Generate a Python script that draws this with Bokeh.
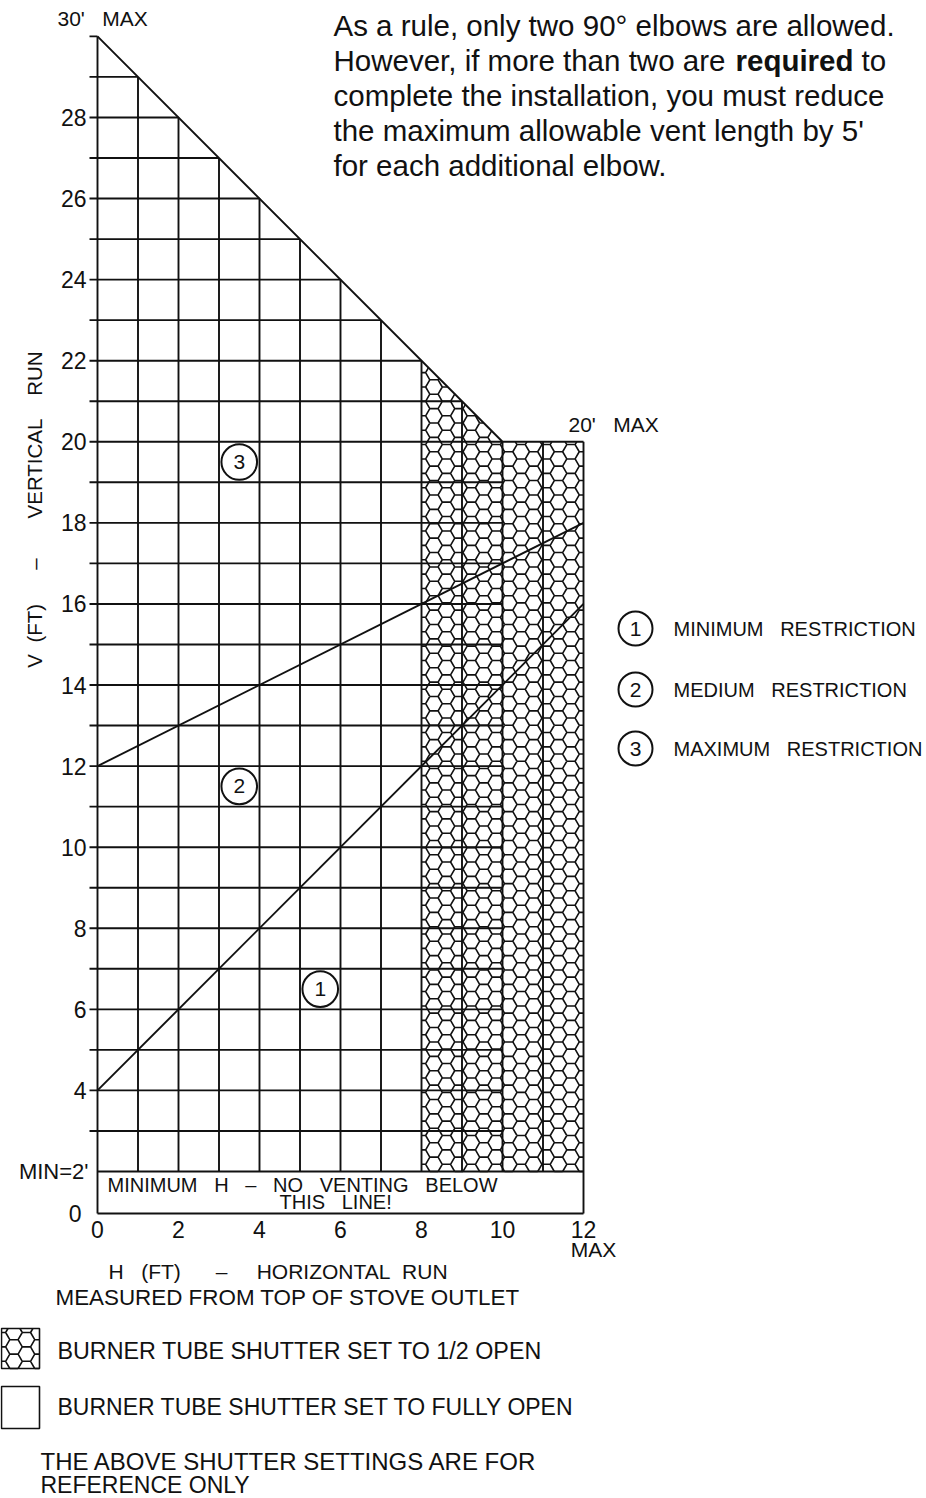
import numpy as np
from bokeh.plotting import figure
from bokeh.models import Range1d
from bokeh.embed import file_html
from bokeh.resources import INLINE
from bokeh.core.properties import value

# ---------------- data ----------------
h_ticks = [0, 2, 4, 6, 8, 10, 12]
h_tick_labels = ["0", "2", "4", "6", "8", "10", "12"]
v_ticks = [4, 6, 8, 10, 12, 14, 16, 18, 20, 22, 24, 26, 28]
v_tick_labels = ["4", "6", "8", "10", "12", "14", "16", "18", "20", "22", "24", "26", "28"]

h_max = 12            # maximum horizontal run
v_max = 30            # maximum vertical run
v_max_at_h_max = 20   # maximum vertical run at the end
v_min = 2             # minimum vertical run
h_half_open = 8       # from here on: shutter 1/2 open
h_knee = 10           # where the limit line reaches 20'

# limit line and restriction lines (H, V)
limit_h = [0, 10, 12]
limit_v = [30, 20, 20]
min_restr_h = [0, 12]
min_restr_v = [4, 16]
med_restr_h = [0, 12]
med_restr_v = [12, 18]

zone_numbers = ["1", "2", "3"]
zone_h = [5.5, 3.5, 3.5]
zone_v = [6.5, 11.5, 19.5]
zone_names = ["MINIMUM\u00a0\u00a0\u00a0RESTRICTION",
              "MEDIUM\u00a0\u00a0\u00a0RESTRICTION",
              "MAXIMUM\u00a0\u00a0\u00a0RESTRICTION"]

note_lines = ["As a rule, only two 90\u00b0 elbows are allowed.",
              "However, if more than two are",
              "complete the installation, you must reduce",
              "the maximum allowable vent length by 5'",
              "for each additional elbow."]

# ---------------- layout ----------------
W, H = 926, 1498
PPX = 40.5     # px per ft (horizontal)
PPY = 40.54    # px per ft (vertical)


def X(px):
    return (px - 97) / PPX


def Y(py):
    return 2 + (1171 - py) / PPY


x_start = X(0)
x_end = x_start + W / PPX
y_end = Y(0)
y_start = y_end - H / PPY
V_ZERO = Y(1213)      # the compressed 0..2 band bottom
TICK = 8 / PPX

SANS = "Liberation Sans"
NB = "\u00a0"
INK = "#111111"

p = figure(width=W, height=H, x_range=Range1d(x_start, x_end),
           y_range=Range1d(y_start, y_end), output_backend="svg",
           toolbar_location=None, x_axis_location=None, y_axis_location=None,
           min_border=0, outline_line_color=None,
           background_fill_color="white", border_fill_color="white")
p.grid.visible = False


def lines_from(segs):
    xs, ys = [], []
    for (a, b, c, d) in segs:
        xs += [a, c, np.nan]
        ys += [b, d, np.nan]
    return xs, ys


def clip(p0, p1, planes):
    t0, t1 = 0.0, 1.0
    dx, dy = p1[0] - p0[0], p1[1] - p0[1]
    for a, b, c in planes:
        num = c - (a * p0[0] + b * p0[1])
        den = a * dx + b * dy
        if abs(den) < 1e-12:
            if num < 0:
                return None
            continue
        t = num / den
        if den > 0:
            t1 = min(t1, t)
        else:
            t0 = max(t0, t)
        if t0 >= t1:
            return None
    return (p0[0] + t0 * dx, p0[1] + t0 * dy, p0[0] + t1 * dx, p0[1] + t1 * dy)


def honeycomb(xmin, xmax, ymin, ymax, s, regions):
    segs = []
    r3 = np.sqrt(3)
    ang = np.radians([0, 60, 120, 180])
    ncol = int((xmax - xmin) / (1.5 * s)) + 3
    nrow = int((ymax - ymin) / (r3 * s)) + 3
    for i in range(-1, ncol):
        cx = xmin + 1.5 * s * i
        for j in range(-1, nrow):
            cy = ymin + r3 * s * (j + 0.5 * (i % 2))
            vx = cx + s * np.cos(ang)
            vy = cy + s * np.sin(ang)
            for k in range(3):
                for planes in regions:
                    c = clip((vx[k], vy[k]), (vx[k + 1], vy[k + 1]), planes)
                    if c is not None:
                        segs.append(c)
    return segs


HEX_S = 0.205
# region of 1/2-open shutter: two convex parts
reg_a = [(-1, 0, -h_half_open), (1, 0, h_knee), (0, -1, -v_min), (1, 1, v_max)]
reg_b = [(-1, 0, -h_knee), (1, 0, h_max), (0, -1, -v_min), (0, 1, v_max_at_h_max)]
hex_segs = honeycomb(h_half_open, h_max, v_min, v_max - h_half_open, HEX_S, [reg_a, reg_b])

# legend box with honeycomb
bx0, bx1 = X(1), X(39)
by0, by1 = Y(1368), Y(1328)
reg_c = [(-1, 0, -bx0), (1, 0, bx1), (0, -1, -by0), (0, 1, by1)]
hex_segs += honeycomb(bx0, bx1, by0, by1, HEX_S, [reg_c])

hx, hy = lines_from(hex_segs)
p.line(hx, hy, line_color=INK, line_width=1.6)


def top_at(h):
    return max(v_max - h, v_max_at_h_max)


# grid
grid = []
for j in range(0, h_max + 1):
    low = V_ZERO if j in (0, h_max) else v_min
    grid.append((j, low, j, top_at(j)))
for k in range(v_min + 1, v_max):
    grid.append((-TICK, k, min(h_knee, v_max - k), k))
grid.append((-TICK, v_max, 0, v_max))
grid.append((0, v_min, h_max, v_min))
grid.append((0, V_ZERO, h_max, V_ZERO))
gx, gy = lines_from(grid)
p.line(gx, gy, line_color=INK, line_width=1.9)

# limit & restriction lines
p.line(limit_h, limit_v, line_color=INK, line_width=1.9)
p.line(min_restr_h, min_restr_v, line_color=INK, line_width=1.9)
p.line(med_restr_h, med_restr_v, line_color=INK, line_width=1.9)

# zone markers
p.circle(zone_h, zone_v, radius=0.44, fill_color="white", line_color=INK, line_width=2.0)
p.text(zone_h, zone_v, text=zone_numbers, text_font=value(SANS), text_font_size="21px",
       text_align="center", text_baseline="middle", text_color=INK)


def txt(x, y, s, size, font=SANS, align="left", baseline="middle", angle=0.0, style="normal"):
    p.text(x=[x], y=[y], text=[s], text_font=value(font), text_font_size=f"{size}px",
           text_align=align, text_baseline=baseline, angle=angle,
           text_font_style=style, text_color=INK)


# tick labels
p.text(x=[X(86)] * len(v_ticks), y=v_ticks, text=v_tick_labels, text_font=value(SANS),
       text_font_size="23px", text_align="right", text_baseline="middle", text_color=INK)
p.text(x=h_ticks, y=[Y(1229)] * len(h_ticks), text=h_tick_labels, text_font=value(SANS),
       text_font_size="23px", text_align="center", text_baseline="middle", text_color=INK)
txt(X(88), v_min, "MIN=2'", 22, align="right")
txt(X(81), V_ZERO, "0", 23, align="right")
txt(X(593), Y(1249), "MAX", 21, align="center")
txt(X(57), Y(18), "30'" + NB * 3 + "MAX", 21)
txt(X(568), Y(424), "20'" + NB * 3 + "MAX", 21)

# axis titles
txt(X(34), Y(509), "V" + NB * 2 + "(FT)" + NB * 6 + "\u2013" + NB * 7 + "VERTICAL" + NB * 4 + "RUN",
    20.5, align="center", angle=np.pi / 2)
txt(X(108), Y(1271), "H" + NB * 3 + "(FT)" + NB * 6 + "\u2013" + NB * 5 + "HORIZONTAL" + NB * 2 + "RUN",
    21)
txt(X(55), Y(1297), "MEASURED FROM TOP OF STOVE OUTLET", 22.4)

# band text
txt(X(107), Y(1184), "MINIMUM" + NB * 3 + "H" + NB * 3 + "\u2013" + NB * 3 + "NO" + NB * 3 +
    "VENTING" + NB * 3 + "BELOW", 20)
txt(X(279), Y(1201), "THIS" + NB * 3 + "LINE!", 20)

# right legend
leg_y = [Y(628), Y(689), Y(748)]
leg_x = [X(635)] * 3
p.circle(leg_x, leg_y, radius=17 / PPX, fill_color="white", line_color=INK, line_width=2.0)
p.text(leg_x, leg_y, text=zone_numbers, text_font=value(SANS), text_font_size="21px",
       text_align="center", text_baseline="middle", text_color=INK)
p.text([X(673)] * 3, leg_y, text=zone_names, text_font=value(SANS), text_font_size="20px",
       text_align="left", text_baseline="middle", text_color=INK)

# note text
NOTE = 29.5
for i, line in enumerate(note_lines):
    txt(X(333), Y(25 + 35 * i), line, NOTE)
txt(X(735), Y(60), "required", NOTE, style="bold")
txt(X(861), Y(60), "to", NOTE)

# bottom legend
p.quad(left=[bx0, bx0], right=[bx1, bx1], bottom=[by0, Y(1428)], top=[by1, Y(1386)],
       fill_color=None, line_color=INK, line_width=1.6)
txt(X(57), Y(1350), "BURNER TUBE SHUTTER SET TO 1/2 OPEN", 23.3)
txt(X(57), Y(1406), "BURNER TUBE SHUTTER SET TO FULLY OPEN", 23)
txt(X(40), Y(1461), "THE ABOVE SHUTTER SETTINGS ARE FOR", 24)
txt(X(40), Y(1484), "REFERENCE ONLY", 23)

open("out.html", "w").write(file_html(p, INLINE))
